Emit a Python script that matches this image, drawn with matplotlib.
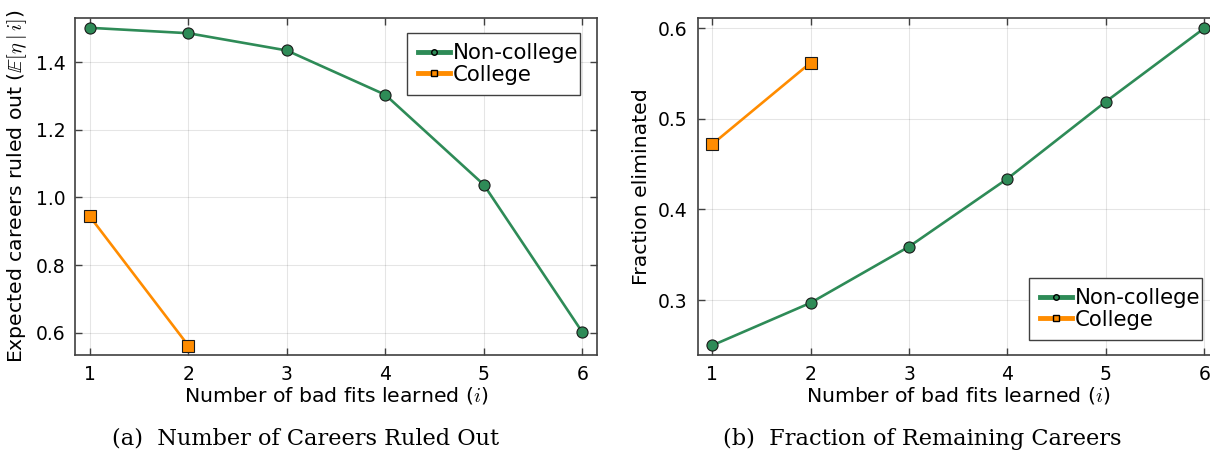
import matplotlib
matplotlib.use("Agg")
import matplotlib.pyplot as plt
from matplotlib.lines import Line2D

# ---- data ----
steps_noncollege = [1, 2, 3, 4, 5, 6]
steps_college = [1, 2]

expected_noncollege = [1.502, 1.486, 1.435, 1.304, 1.038, 0.602]
expected_college = [0.944, 0.562]

fraction_noncollege = [0.250, 0.297, 0.359, 0.434, 0.519, 0.600]
fraction_college = [0.472, 0.562]

left_yticks = [0.6, 0.8, 1.0, 1.2, 1.4]
right_yticks = [0.3, 0.4, 0.5, 0.6]
xticks = [1, 2, 3, 4, 5, 6]

GREEN = "#2E8B57"
ORANGE = "#FF8C00"
FRAME = "#404040"

plt.rcParams["mathtext.fontset"] = "cm"
plt.rcParams["font.family"] = ["DejaVu Sans"]

W, H = 1210, 450
fig = plt.figure(figsize=(W / 100, H / 100), dpi=100)


def px_axes(x0, y0, x1, y1):
    return fig.add_axes([x0 / W, 1 - y1 / H, (x1 - x0) / W, (y1 - y0) / H])


def style(ax, yticks, ylim):
    ax.set_xlim(0.85, 6.15)
    ax.set_ylim(*ylim)
    ax.set_xticks(xticks)
    ax.set_yticks(yticks)
    ax.tick_params(direction="in", length=5, width=1, color=FRAME,
                   top=True, right=True, labelsize=13.5, pad=7)
    for s in ax.spines.values():
        s.set_color(FRAME)
        s.set_linewidth(1.2)
    ax.grid(True, color="#000000", alpha=0.1, linewidth=0.8)
    ax.set_axisbelow(True)
    ax.set_xlabel(r"Number of bad fits learned ($i$)", fontsize=14.7, labelpad=1)


def draw(ax, ync, yc):
    ax.plot(steps_noncollege, ync, color=GREEN, lw=1.9, marker="o", ms=8,
            mfc=GREEN, mec="#1a1a1a", mew=0.8, zorder=3)
    ax.plot(steps_college, yc, color=ORANGE, lw=1.9, marker="s", ms=8,
            mfc=ORANGE, mec="#1a1a1a", mew=0.8, zorder=3)


def legend(ax, x0, y0, x1, y1):
    handles = [
        Line2D([], [], color=GREEN, lw=3.5, marker="o", ms=4, mfc=GREEN, mec="black", mew=1),
        Line2D([], [], color=ORANGE, lw=3.5, marker="s", ms=4, mfc=ORANGE, mec="black", mew=1),
    ]
    bbox = (x0 / W, 1 - y1 / H, (x1 - x0) / W, (y1 - y0) / H)
    leg = ax.legend(handles, ["Non-college", "College"], loc="center",
                    bbox_to_anchor=bbox, bbox_transform=fig.transFigure,
                    fontsize=15.3, handlelength=1.5, handletextpad=0.15,
                    labelspacing=0.08, borderpad=0.5, borderaxespad=0,
                    fancybox=False, framealpha=1, mode="expand")
    fr = leg.get_frame()
    fr.set_edgecolor(FRAME)
    fr.set_linewidth(1.0)


# ---- left panel ----
ax1 = px_axes(75, 18, 597, 355)
style(ax1, left_yticks, (0.534, 1.531))
draw(ax1, expected_noncollege, expected_college)
ax1.set_yticklabels([f"{v:.1f}" for v in left_yticks])
ax1.set_ylabel(r"Expected careers ruled out ($\mathbb{E}[\eta\mid i]$)", fontsize=14.7, labelpad=5)
legend(ax1, 407, 30, 580, 98)

# ---- right panel ----
ax2 = px_axes(697.5, 18, 1219, 355)
style(ax2, right_yticks, (0.2394, 0.6113))
draw(ax2, fraction_noncollege, fraction_college)
ax2.set_yticklabels([f"{v:.1f}" for v in right_yticks])
ax2.set_ylabel("Fraction eliminated", fontsize=14.7, labelpad=5)
legend(ax2, 1029, 275, 1202, 343)

# ---- captions ----
fig.text(306 / W, 5 / H, "(a)  Number of Careers Ruled Out", ha="center", va="baseline",
         family="DejaVu Serif", fontsize=16.2)
fig.text(922 / W, 5 / H, "(b)  Fraction of Remaining Careers", ha="center", va="baseline",
         family="DejaVu Serif", fontsize=16.2)

fig.savefig("out.png", dpi=100)
